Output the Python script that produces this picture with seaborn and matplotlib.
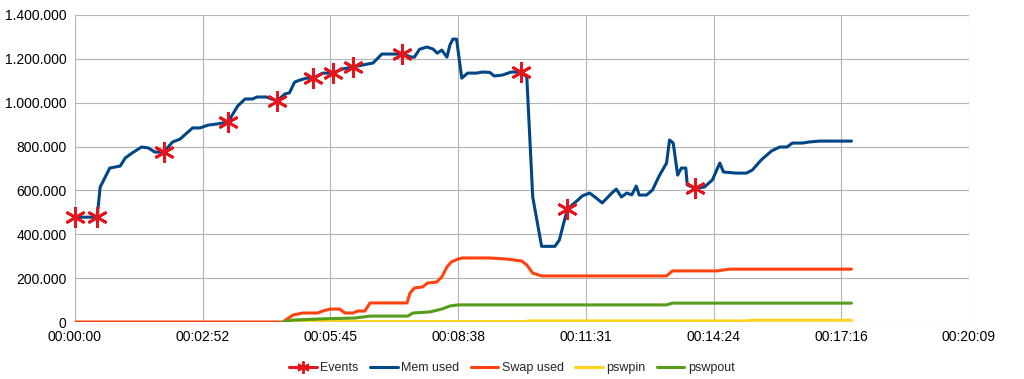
import numpy as np
import pandas as pd
import matplotlib
matplotlib.use("Agg")
import matplotlib.pyplot as plt
from matplotlib.lines import Line2D
from matplotlib.ticker import FuncFormatter
import seaborn as sns

# time in seconds
mem_t = [0, 30, 34, 47, 61, 68, 77, 90, 99, 108, 120, 132, 142, 159, 169, 180, 192, 207,
         220, 230, 240, 246, 259, 273, 284, 290, 297, 304, 313, 322, 335, 349, 362, 376,
         395, 403, 415, 430, 442, 455, 459, 466, 476, 484, 490, 496, 503, 507, 511, 516,
         523, 531, 543, 551, 561, 567, 578, 590, 603, 611, 619, 631, 649, 655, 662, 666,
         680, 686, 696, 705, 713, 726, 732, 739, 746, 753, 759, 763, 773, 781, 790, 800,
         804, 809, 815, 820, 826, 828, 838, 851, 862, 872, 877, 894, 908, 916, 928, 942,
         953, 963, 970, 984, 993, 1007, 1050]
mem_used = [478000, 478000, 615000, 702000, 711000, 748000, 770000, 798000, 794000, 775000,
            775000, 821000, 834000, 885000, 885000, 898000, 903000, 912000, 985000, 1017000,
            1017000, 1026000, 1026000, 1008000, 1040000, 1045000, 1094000, 1103000, 1112000,
            1112000, 1135000, 1135000, 1154000, 1163000, 1176000, 1181000, 1222000, 1222000,
            1222000, 1208000, 1208000, 1244000, 1254000, 1245000, 1226000, 1240000, 1208000,
            1263000, 1290000, 1290000, 1112000, 1135000, 1135000, 1140000, 1138000, 1122000,
            1126000, 1140000, 1140000, 1117000, 570000, 345000, 345000, 374000, 465000, 515000,
            556000, 575000, 588000, 565000, 543000, 588000, 606000, 570000, 588000, 580000,
            620000, 579000, 579000, 602000, 666000, 725000, 830000, 816000, 670000, 702000,
            702000, 625000, 611000, 615000, 648000, 725000, 684000, 679000, 679000, 693000,
            739000, 780000, 798000, 798000, 816000, 816000, 821000, 825000, 825000]

swap_t = [0, 281, 295, 308, 328, 335, 345, 358, 365, 376, 382, 392, 399, 443, 449, 453,
          459, 470, 477, 489, 496, 503, 509, 518, 524, 561, 584, 604, 611, 619, 631, 800,
          808, 868, 885, 1050]
swap_used = [0, 0, 32000, 41000, 41000, 50000, 59000, 59000, 41000, 41000, 50000, 50000,
             87000, 87000, 87000, 132000, 155000, 160000, 178000, 182000, 205000, 251000,
             274000, 287000, 292000, 292000, 287000, 278000, 260000, 223000, 210000, 210000,
             233000, 233000, 241000, 241000]

pswpin_t = [281, 285, 608, 614, 908, 914, 1050]
pswpin = [0, 2000, 2000, 5000, 5000, 8000, 8000]

pswpout_t = [281, 295, 331, 378, 399, 450, 457, 480, 496, 507, 518, 800, 808, 1050]
pswpout = [0, 9000, 14000, 18000, 27000, 27000, 41000, 46000, 59000, 73000, 78000, 78000,
           86000, 86000]

event_t = [0, 30, 120, 207, 273, 322, 349, 376, 442, 603, 666, 838]
event_v = [478000, 478000, 775000, 912000, 1008000, 1112000, 1135000, 1163000, 1222000,
           1140000, 515000, 611000]

x_ticks = [0, 172.7, 345.4, 518.1, 690.9, 863.6, 1036.3, 1209]
x_labels = ["00:00:00", "00:02:52", "00:05:45", "00:08:38", "00:11:31", "00:14:24",
            "00:17:16", "00:20:09"]

sns.set_style("white")
plt.rcParams['font.family'] = ['Liberation Sans', 'DejaVu Sans']

fig = plt.figure(figsize=(10.24, 3.79), dpi=100)
ax = fig.add_axes([75 / 1024, 1 - 322 / 379, (969 - 75) / 1024, (322 - 15) / 379])

c_mem = "#004586"
c_swap = "#ff420e"
c_in = "#ffd320"
c_out = "#579d1c"
c_ev = "#e8141c"

sns.lineplot(x=swap_t, y=swap_used, color=c_swap, lw=2.2, ax=ax, estimator=None, sort=False, zorder=3)
sns.lineplot(x=pswpin_t, y=pswpin, color=c_in, lw=2.2, ax=ax, estimator=None, sort=False, zorder=4)
sns.lineplot(x=pswpout_t, y=pswpout, color=c_out, lw=2.2, ax=ax, estimator=None, sort=False, zorder=4)
sns.lineplot(x=mem_t, y=mem_used, color=c_mem, lw=2.2, ax=ax, estimator=None, sort=False, zorder=5)
ax.plot(event_t, event_v, linestyle="none", marker=(6, 2, 0), markersize=15,
        markeredgewidth=2.0, color=c_ev, zorder=6, clip_on=False)

ax.set_xlim(0, 1209)
ax.set_ylim(0, 1400000)
ax.set_xticks(x_ticks)
ax.set_xticklabels(x_labels)
ax.set_yticks(np.arange(0, 1400001, 200000))
ax.yaxis.set_major_formatter(FuncFormatter(lambda v, p: f"{int(v):,}".replace(",", ".")))
ax.grid(True, color="#b3b3b3", lw=0.8)
ax.set_axisbelow(True)
for s in ax.spines.values():
    s.set_visible(False)
ax.tick_params(axis="x", length=0, labelsize=10, colors="#000000", pad=6)
ax.tick_params(axis="y", length=3, width=0.8, color="#b3b3b3", labelcolor="#000000",
               labelsize=10, pad=3)
ax.set_xlabel("")
ax.set_ylabel("")

handles = [
    Line2D([], [], color=c_ev, lw=2.2, marker=(6, 2, 0), markersize=9, markeredgewidth=1.4),
    Line2D([], [], color=c_mem, lw=2.2),
    Line2D([], [], color=c_swap, lw=2.2),
    Line2D([], [], color=c_in, lw=2.2),
    Line2D([], [], color=c_out, lw=2.2),
]
labels = ["Events", "Mem used", "Swap used", "pswpin", "pswpout"]
fig.legend(handles, labels, loc="center", bbox_to_anchor=(512 / 1024, 1 - 368 / 379), ncol=5,
           frameon=False, fontsize=9, handlelength=2.2, handletextpad=0.3, columnspacing=0.9)

fig.savefig("out.png", dpi=100)
